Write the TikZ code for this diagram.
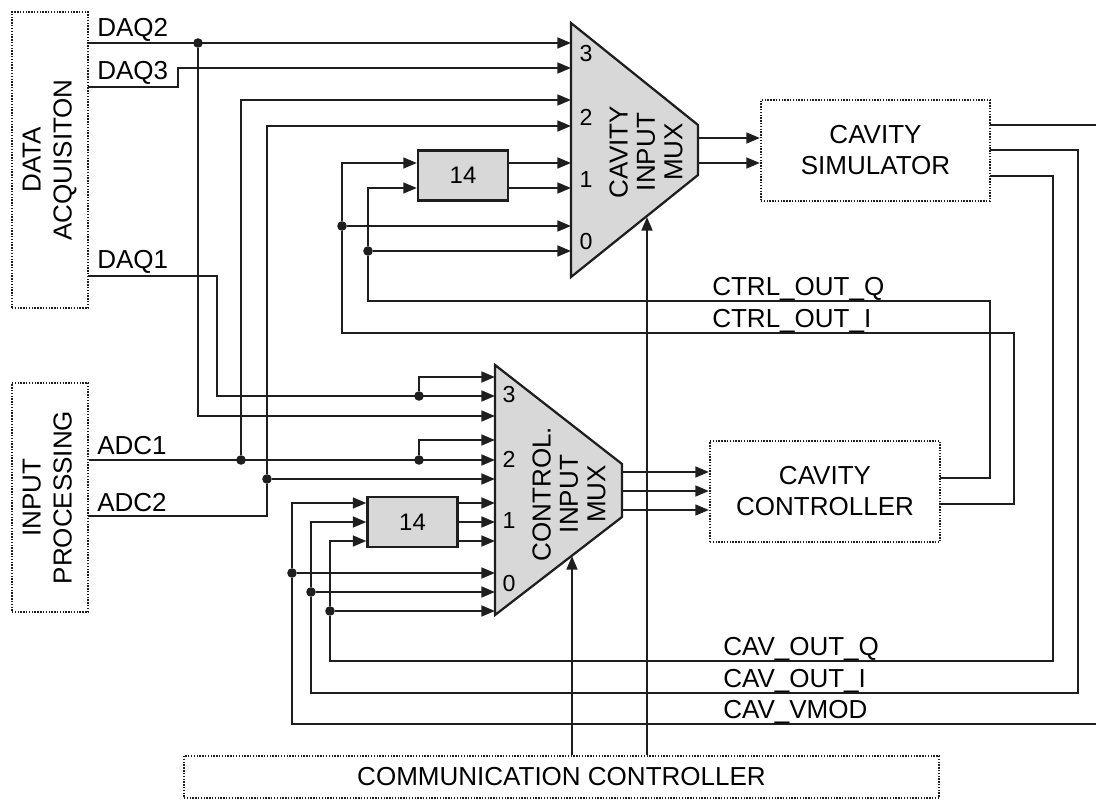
\documentclass[tikz,border=0pt]{standalone}
\usepackage{fontspec}
\setmainfont{Liberation Sans}
\usetikzlibrary{arrows.meta,positioning,calc}
\definecolor{llgrey}{HTML}{D8D8D8}
\definecolor{llink}{HTML}{1E1E1E}
\tikzset{
  wire/.style={line width=1.6pt,draw=llink},
  ar/.style={wire,-{Triangle[length=3.4mm,width=2.7mm]}},
  blk/.style={draw=llink,line width=1.5pt,dash pattern=on 1pt off 1pt,inner sep=0pt,
              align=center,font=\fontsize{18.5}{22}\selectfont},
  dly/.style={draw=llink,fill=llgrey,line width=1.6pt,minimum width=2.25cm,minimum height=1.25cm,
              inner sep=0pt,font=\fontsize{17}{20}\selectfont},
  mux/.style={draw=llink,fill=llgrey,line width=1.6pt,line join=miter},
  muxtxt/.style={rotate=90,align=center,inner sep=0pt,font=\fontsize{18.5}{19.5}\selectfont},
  num/.style={inner sep=0pt,font=\fontsize{16.5}{18}\selectfont},
  sig/.style={anchor=base west,inner sep=0pt,font=\fontsize{18.5}{22}\selectfont},
  dot/.style={circle,fill=llink,inner sep=0pt,minimum size=2.4mm},
}

\begin{document}
\begin{tikzpicture}[x=0.025cm,y=-0.025cm]
  \useasboundingbox (0,0) rectangle (1096,800);
  % multiplexers
  \draw[mux] (571,23) -- (698,125) -- (698,175) -- (571,277) -- cycle;
  \draw[mux] (495,365) -- (622,464) -- (622,517) -- (495,615) -- cycle;
  \node[muxtxt] (cmt) at (646,152) {CAVITY\\INPUT\\MUX};
  \node[muxtxt] (xmt) at (569,494) {CONTROL.\\INPUT\\MUX};
  \foreach \n/\y in {1/43,2/68,3/100,4/126,5/163,6/188,7/226,8/251}
    \coordinate (c\n) at (571,\y);
  \foreach \n/\y in {1/377,2/396,3/416,4/440,5/460,6/479,7/503,8/522,9/541,10/573,11/592,12/611}
    \coordinate (k\n) at (495,\y);
  \foreach \v/\y in {3/54,2/117,1/180,0/242}
    \node[num] (cn\v) at (586,\y) {\v};
  \foreach \v/\y in {3/395,2/459,1/521,0/584}
    \node[num] (xn\v) at (509,\y) {\v};

  % blocks
  \node[blk,minimum width=1.9cm,minimum height=7.4cm] (daq) at (50,160)
    {\rotatebox{90}{\begin{tabular}{@{}c@{}}DATA\\ACQUISITON\end{tabular}}};
  \node[blk,minimum width=1.9cm,minimum height=5.725cm] (ip) at (50,497.5)
    {\rotatebox{90}{\begin{tabular}{@{}c@{}}INPUT\\PROCESSING\end{tabular}}};
  \node[blk,minimum width=5.725cm,minimum height=2.525cm] (sim) at (875.5,150.5) {CAVITY\\SIMULATOR};
  \node[blk,minimum width=5.75cm,minimum height=2.525cm] (ctl) at (825,491.5) {CAVITY\\CONTROLLER};
  \node[blk,minimum width=18.875cm,minimum height=1.05cm] (comm) at (561.5,777) {COMMUNICATION CONTROLLER};
  \node[dly] (cdly) at (463,175.5) {14};
  \node[dly] (xdly) at (412.5,522) {14};

  % junctions
  \node[dot] (j1) at (198,43) {};
  \node[dot] (j2) at (241,460) {};
  \node[dot] (j3) at (267,479) {};
  \node[dot] (j4) at (419,396) {};
  \node[dot] (j5) at (419,460) {};
  \node[dot] (j6) at (342,226) {};
  \node[dot] (j7) at (368,251) {};
  \node[dot] (j8) at (292,573) {};
  \node[dot] (j9) at (311,592) {};
  \node[dot] (j10) at (330,611) {};

  \coordinate (odaq3) at (88,87);
  \coordinate (odaq1) at (88,276);
  \coordinate (oadc2) at (88,516);
  \coordinate (cq) at (940,478);
  \coordinate (ci) at (940,504);
  \coordinate (sv) at (990,125);
  \coordinate (si) at (990,150);
  \coordinate (sq) at (990,176);
  \coordinate (vmodout) at (1096,125);
  \coordinate (vmodin) at (1096,724);
  \coordinate (csel) at (647,217);
  \coordinate (xsel) at (572,556);

  % inputs
  \draw[ar] (daq.east|-c1) -- (c1);
  \draw[ar] (j1) |- (k3);
  \draw[ar] (odaq3) -- ++(90,0) |- (c2);
  \draw[ar] (odaq1) -- ++(129,0) |- (k2);
  \draw[ar] (j4) |- (k1);
  \draw[ar] (ip.east|-k5) -- (k5);
  \draw[ar] (j2) |- (c3);
  \draw[ar] (j5) |- (k4);
  \draw[wire] (oadc2) -| (j3);
  \draw[ar] (j3) |- (c4);
  \draw[ar] (j3) -- (k6);

  % feedback from controller
  \draw[ar] (cq) -| (990,301) -| (j7) |- (cdly.west|-c6);
  \draw[ar] (j7) -- (c8);
  \draw[ar] (ci) -| (1014,333) -| (j6) |- (cdly.west|-c5);
  \draw[ar] (j6) -- (c7);
  \draw[ar] (cdly.east|-c5) -- (c5);
  \draw[ar] (cdly.east|-c6) -- (c6);

  % feedback from simulator
  \draw[wire] (sv) -- (vmodout);
  \draw[ar] (vmodin) -| (j8) |- (xdly.west|-k7);
  \draw[ar] (j8) -- (k10);
  \draw[ar] (si) -| (1078,693) -| (j9) |- (xdly.west|-k8);
  \draw[ar] (j9) -- (k11);
  \draw[ar] (sq) -| (1053,661) -| (j10) |- (xdly.west|-k9);
  \draw[ar] (j10) -- (k12);
  \foreach \n in {7,8,9}
    \draw[ar] (xdly.east|-k\n) -- (k\n);

  % mux outputs
  \foreach \y in {138,163}
    \draw[ar] (698,\y) -- (sim.west|-0,\y);
  \foreach \y in {472,491,510}
    \draw[ar] (622,\y) -- (ctl.west|-0,\y);
  \draw[ar] (comm.north-|csel) -- (csel);
  \draw[ar] (comm.north-|xsel) -- (xsel);

  % signal names
  \node[sig] (ldaq2) at (97,37) {DAQ2};
  \node[sig] (ldaq3) at (97,80) {DAQ3};
  \node[sig] (ldaq1) at (97,269) {DAQ1};
  \node[sig] (ladc1) at (97,454) {ADC1};
  \node[sig] (ladc2) at (97,511) {ADC2};
  \node[sig] (lcoq) at (712,295) {CTRL\_OUT\_Q};
  \node[sig] (lcoi) at (712,327) {CTRL\_OUT\_I};
  \node[sig] (lcavq) at (723,655) {CAV\_OUT\_Q};
  \node[sig] (lcavi) at (723,687) {CAV\_OUT\_I};
  \node[sig] (lvmod) at (723,718) {CAV\_VMOD};
\end{tikzpicture}
\end{document}
